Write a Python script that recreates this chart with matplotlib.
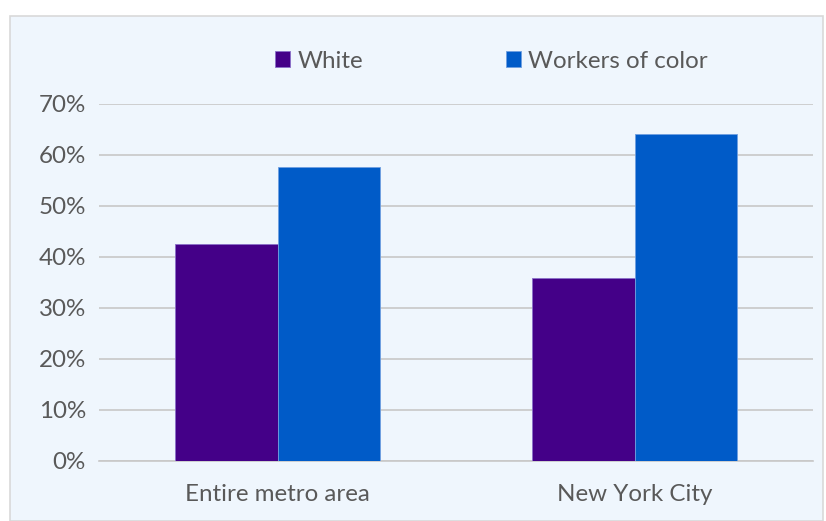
import matplotlib.pyplot as plt
from matplotlib.patches import Rectangle
import numpy as np

plt.rcParams['font.family'] = ['Lato', 'DejaVu Sans']

# data
categories = ["Entire metro area", "New York City"]
series_names = ["White", "Workers of color"]
white = [42.5, 35.8]
workers_of_color = [57.6, 64.1]
yticks = [0, 10, 20, 30, 40, 50, 60, 70]

colors = ['#440088', '#005BC8']
edges = ['#8a70c8', '#6f9fe0']
bg = '#EFF6FD'
text_color = '#595959'
fs = 17.4

fig = plt.figure(figsize=(8.26, 5.21), dpi=100)
fig.patch.set_facecolor('white')

# chart box with light border
fig.patches.append(Rectangle((10 / 826, 0), 813 / 826, 505 / 521, transform=fig.transFigure,
                             facecolor=bg, edgecolor='#D9D9D9', linewidth=1.2, zorder=-5))

ax = fig.add_axes([99 / 826, 60.3 / 521, 714 / 826, 356.7 / 521])
ax.set_facecolor('none')

x = np.arange(len(categories))
w = 0.286
ax.bar(x - w / 2, white, w, color=colors[0], edgecolor=edges[0], linewidth=0.6,
       label=series_names[0], zorder=3)
ax.bar(x + w / 2, workers_of_color, w, color=colors[1], edgecolor=edges[1], linewidth=0.6,
       label=series_names[1], zorder=3)

ax.set_xlim(-0.5, 1.5)
ax.set_ylim(0, 70)
ax.set_yticks(yticks)
ax.set_yticklabels([f"{t}%" for t in yticks])
ax.set_xticks(x)
ax.set_xticklabels(categories)

ax.grid(axis='y', color='#C8C8C8', linewidth=1.2, zorder=1)
ax.set_axisbelow(True)
for s in ['top', 'right', 'left']:
    ax.spines[s].set_visible(False)
ax.spines['bottom'].set_color('#C8C8C8')
ax.spines['bottom'].set_linewidth(1.2)

ax.tick_params(axis='both', length=0, labelsize=fs, colors=text_color)
ax.tick_params(axis='y', pad=9.5)
ax.tick_params(axis='x', pad=17)

leg = ax.legend(loc='center', bbox_to_anchor=(491.5 / 826, 1 - 61 / 521), bbox_transform=fig.transFigure,
                ncol=2, frameon=False, fontsize=fs, handlelength=0.62, handleheight=0.62,
                handletextpad=0.3, columnspacing=5.9)
for t in leg.get_texts():
    t.set_color(text_color)

fig.savefig("out.png", dpi=100, facecolor=fig.get_facecolor())
